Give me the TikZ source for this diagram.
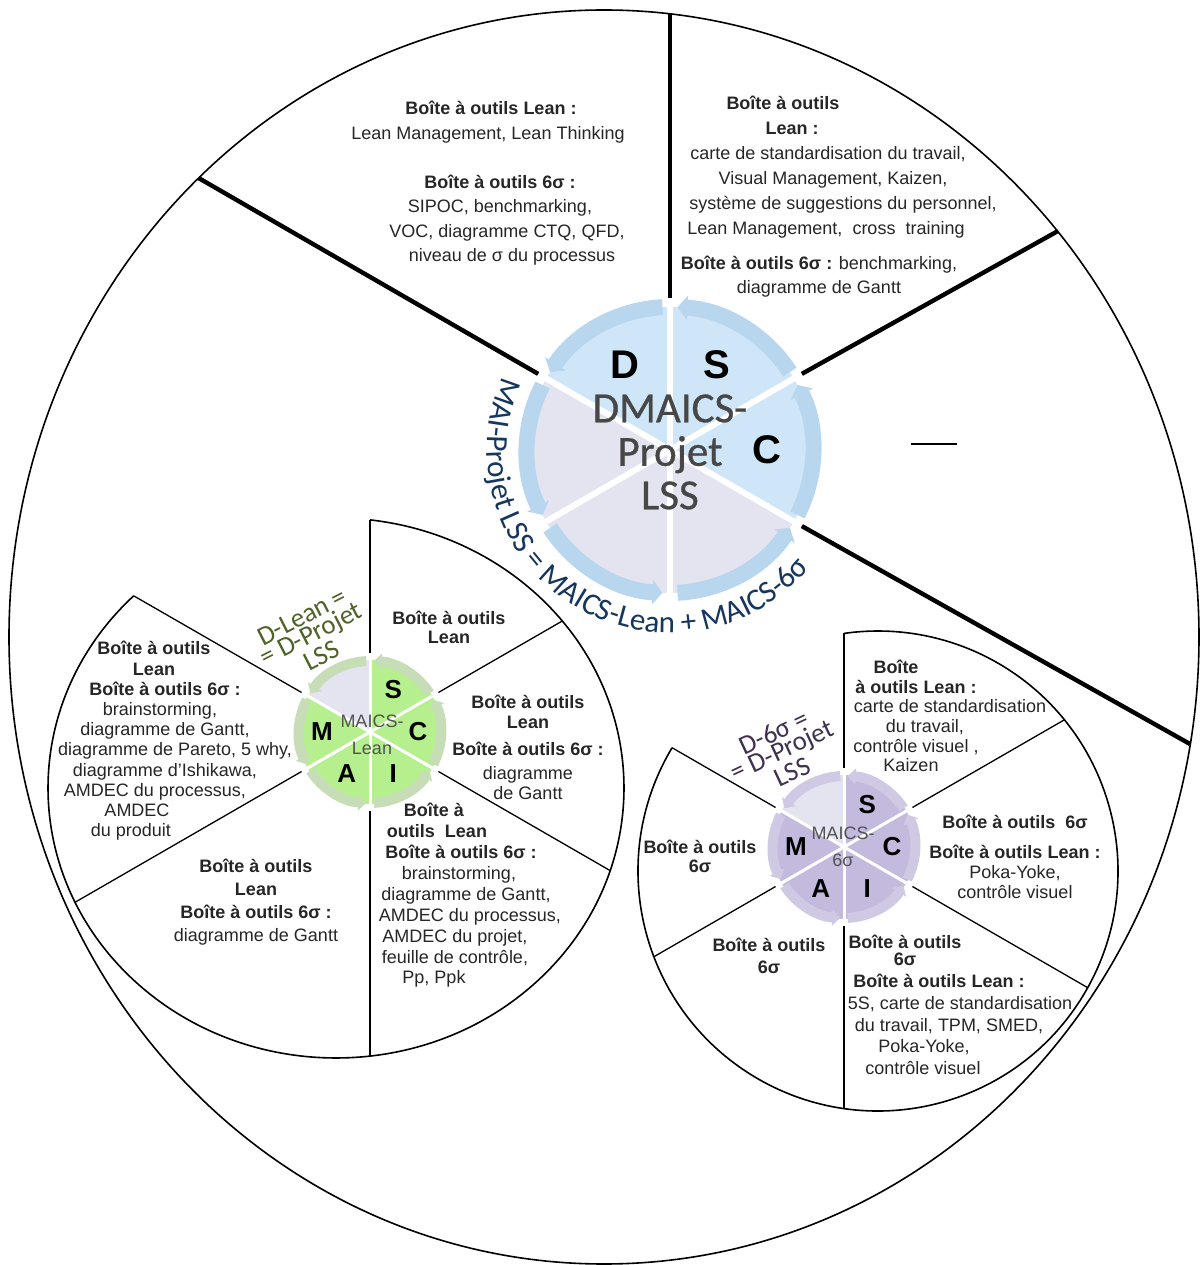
\documentclass[tikz,border=0pt]{standalone}
\usepackage{fontspec}
\setmainfont{Liberation Sans}
\newfontfamily\calibri{Carlito}
\newfontfamily\calibriheavy[FakeBold=0.7]{Carlito}
\usetikzlibrary{calc, arrows.meta, decorations.text}

\definecolor{wblue}{RGB}{206,230,248}
\definecolor{wgrey}{RGB}{228,228,240}
\definecolor{ringblue}{RGB}{184,214,238}
\definecolor{sgreen}{RGB}{182,240,142}
\definecolor{rgreen}{RGB}{198,221,184}
\definecolor{spurple}{RGB}{196,186,222}
\definecolor{rpurple}{RGB}{208,201,227}
\definecolor{navy}{RGB}{22,54,94}
\definecolor{leangreen}{RGB}{79,98,40}
\definecolor{sigmapurple}{RGB}{64,49,82}

% shift one centred line left / right (amount in pt = pixels of the picture)
\newcommand{\toleft}[2]{#2\hspace*{#1}\null}
\newcommand{\toright}[2]{\null\hspace*{#1}#2}

\tikzset{
  bigline/.style={line width=2.2pt},
  thinline/.style={line width=0.65pt},
  rim/.style={line width=0.8pt},
  tools/.style={align=center, inner sep=0pt, text=black!85, font=\fontsize{9}{#1}\selectfont},
  tools/.default=10.2,
  bigletter/.style={font=\fontsize{20}{20}\selectfont\bfseries},
  smallletter/.style={font=\fontsize{13}{13}\selectfont\bfseries},
  wheeltitle/.style={align=center, inner sep=0pt, text=black!72, font=\calibriheavy\fontsize{21.5}{21.75}\selectfont},
  smalltitle/.style={align=center, inner sep=0pt, text=black!68, font=\fontsize{9}{13.5}\selectfont},
  dlabel/.style={align=center, inner sep=0pt, font=\calibri\fontsize{13.5}{9.8}\selectfont},
}

\begin{document}
\begin{tikzpicture}[x=0.5pt, y=0.5pt]
\useasboundingbox (0,0) rectangle (1200,1265);
\fill[white] (0,0) rectangle (1200,1265);

% outer ring of the project
\draw[rim] (604,628) ellipse[x radius=595, y radius=627];
\coordinate (W) at (670,815);
\coordinate (B1) at (670,1251);
\coordinate (B2) at (1058,1034);
\coordinate (B3) at (198.5,1087);
\coordinate (B4) at (1190,521);
\foreach \a/\p in {90/B1, 30/B2, 150/B3, -30/B4}
  \draw[bigline] ($(W)+(\a:152)$) -- (\p);
\draw[line width=1pt] (911,821) -- (957,821);

% Lean circle
\coordinate (WL) at (370,533);
\draw[rim] ($(336,477)+(134.6:288 and 270)$) arc[start angle=134.6, end angle=443.2, x radius=288, y radius=270];
\coordinate (L1) at (370,745);
\coordinate (L2) at (562.3,644);
\coordinate (L3) at (610.3,394.3);
\coordinate (L4) at (370,209);
\coordinate (L5) at (74.7,362.5);
\coordinate (L6) at (134,669);
\foreach \a/\p in {90/L1, 30/L2, -30/L3, -90/L4, 210/L5, 150/L6}
  \draw[thinline] ($(WL)+(\a:79)$) -- (\p);

% 6 sigma circle
\coordinate (WR) at (844,418);
\draw[rim] ($(878,394)+(149.1:240)$) arc[start angle=149.1, end angle=458.1, radius=240];
\coordinate (R1) at (844,631.6);
\coordinate (R2) at (1064.4,545.2);
\coordinate (R3) at (1087.7,277.3);
\coordinate (R4) at (844,156.4);
\coordinate (R5) at (653.9,308.25);
\coordinate (R6) at (672.1,517.25);
\foreach \a/\p in {90/R1, 30/R2, -30/R3, -90/R4, 210/R5, 150/R6}
  \draw[thinline] ($(WR)+(\a:79)$) -- (\p);

% DMAICS wheel
\foreach \a/\col in {30/wblue,90/wblue,150/wgrey,210/wgrey,270/wgrey,330/wblue}
  \fill[\col] (W) -- ($(W)+(\a:143)$) arc[start angle=\a, end angle=\a+60, radius=143] -- cycle;
\foreach \a in {30,90,...,330}
  \draw[white, line width=3pt] (W) -- ($(W)+(\a:152)$);
\foreach \a in {30,90,...,330}
  \draw[ringblue, line width=8pt, -{Triangle[width=12pt, length=5pt]}]
    ($(W)+({\a+3}:143)$) arc[start angle=\a+3, end angle=\a+57, radius=143];
\node[bigletter] (cD) at ($(W)+(118:97)$) {D};
\node[bigletter] (cS) at ($(W)+(61:97)$) {S};
\node[bigletter] (cC) at ($(W)+(0:97)$) {C};
\node[wheeltitle] (cT) at (670,813) {DMAICS-\\Projet\\LSS};
\path[decorate, decoration={text along path, text align=center, text color=navy,
    text={|\calibri\fontsize{15.5}{15.5}\selectfont|MAI-Projet LSS = MAICS-Lean + MAICS-6σ}}]
  ($(W)+(128:183)$) arc[start angle=128, end angle=348, radius=183];

% small wheels
\foreach \w/\col/\rcol in {WL/sgreen/rgreen, WR/spurple/rpurple} {
  \foreach \a in {30,90,...,330}
    \fill[\col] (\w) -- ($(\w)+(\a:72)$) arc[start angle=\a, end angle=\a+60, radius=72] -- cycle;
  \fill[wgrey] (\w) -- ($(\w)+(90:72)$) arc[start angle=90, end angle=150, radius=72] -- cycle;
  \foreach \a in {30,90,...,330}
    \draw[white, line width=1.5pt] (\w) -- ($(\w)+(\a:78)$);
  \foreach \a in {30,90,...,330}
    \draw[\rcol, line width=5pt, -{Triangle[width=8pt, length=4pt]}]
      ($(\w)+({\a+3}:71)$) arc[start angle=\a+3, end angle=\a+57, radius=71];
  \foreach \l/\a in {S/61,C/0,I/299,A/241,M/180}
    \node[smallletter] (\w\l) at ($(\w)+(\a:48)$) {\l};
}
\node[smalltitle] (lT) at (372,530.5) {MAICS-\\Lean};
\node[smalltitle] (rT) at (843,418) {MAICS-\\6σ};
\node[dlabel, text=leangreen, rotate=27] (dLean) at (312,629) {D-Lean =\\= D-Projet\\LSS};
\node[dlabel, text=sigmapurple, rotate=25] (dSigma) at (783,513) {D-6σ =\\= D-Projet\\LSS};

% DMAICS toolboxes
\node[tools=12.25] (tD) at (500,1081.5) {\toleft{9pt}{\textbf{Boîte à outils Lean :}}\\\toleft{12pt}{Lean Management, Lean Thinking}\\[12.25pt]
  \textbf{Boîte à outils 6σ :}\\SIPOC, benchmarking,\\\toright{7pt}{VOC, diagramme CTQ, QFD,}\\\toright{12pt}{niveau de σ du processus}};
\node[tools=12.5] (tSh) at (788,1149.5) {\toleft{5pt}{\textbf{Boîte à outils}}\\\toright{4pt}{\textbf{Lean :}}};
\node[tools=12.5] (tSl) at (833,1072.5) {\toleft{5pt}{carte de standardisation du travail,}\\Visual Management, Kaizen,\\
  \toright{10pt}{système de suggestions du personnel,}\\\toleft{7pt}{Lean Management,~ cross~ training}};
\node[tools=12] (tSs) at (819,988) {\textbf{Boîte à outils 6σ :} benchmarking,\\diagramme de Gantt};

% Lean toolboxes
\node[tools=9.5] (lS) at (449,637.5) {\textbf{Boîte à outils}\\\textbf{Lean}};
\node[tools=10] (lC) at (528,518) {\textbf{Boîte à outils}\\\textbf{Lean}\\[3.5pt]\textbf{Boîte à outils 6σ :}\\[2pt]diagramme\\de Gantt};
\node[tools=10.45] (lI) at (455,369.5) {\toleft{21pt}{\textbf{Boîte à}}\\\toleft{18pt}{\textbf{outils~ Lean}}\\\toright{6pt}{\textbf{Boîte à outils 6σ :}}\\\toright{4pt}{brainstorming,}\\
  \toright{11pt}{diagramme de Gantt,}\\\toright{15pt}{AMDEC du processus,}\\AMDEC du projet,\\feuille de contrôle,\\\toleft{21pt}{Pp, Ppk}};
\node[tools=11.5] (lA) at (256,362.5) {\textbf{Boîte à outils}\\\textbf{Lean}\\\textbf{Boîte à outils 6σ :}\\diagramme de Gantt};
\node[tools=10.1] (lM) at (165,524) {\toleft{11pt}{\textbf{Boîte à outils}}\\\toleft{11pt}{\textbf{Lean}}\\\textbf{Boîte à outils 6σ :}\\\toleft{5pt}{brainstorming,}\\
  diagramme de Gantt,\\\toright{10pt}{diagramme de Pareto, 5 why,}\\diagramme d’Ishikawa,\\\toleft{10pt}{AMDEC du processus,}\\\toleft{28pt}{AMDEC}\\\toleft{34pt}{du produit}};

% 6 sigma toolboxes
\node[tools=9.8] (rS) at (950,549) {\toleft{54pt}{\textbf{Boîte}}\\\toleft{34pt}{\textbf{à outils Lean :}}\\carte de standardisation\\\toleft{25pt}{du travail,}\\\toleft{34pt}{contrôle visuel ,}\\\toleft{39pt}{Kaizen}};
\node[tools=10] (rC) at (1015,408.5) {\textbf{Boîte à outils~ 6σ}\\[5pt]\textbf{Boîte à outils Lean :}\\Poka-Yoke,\\contrôle visuel};
\node[tools=9.5] (rM) at (700,408.5) {\textbf{Boîte à outils}\\\textbf{6σ}};
\node[tools=11] (rA) at (769,309) {\textbf{Boîte à outils}\\\textbf{6σ}};
\node[tools=8.5] (rIh) at (905,315) {\textbf{Boîte à outils}\\\textbf{6σ}};
\node[tools=10.9] (rIl) at (945,240.5) {\toleft{6pt}{\textbf{Boîte à outils Lean :}}\\\toright{15pt}{5S, carte de standardisation}\\\toright{4pt}{du travail, TPM, SMED,}\\\toleft{21pt}{Poka-Yoke,}\\\toleft{22pt}{contrôle visuel}};
\end{tikzpicture}
\end{document}
